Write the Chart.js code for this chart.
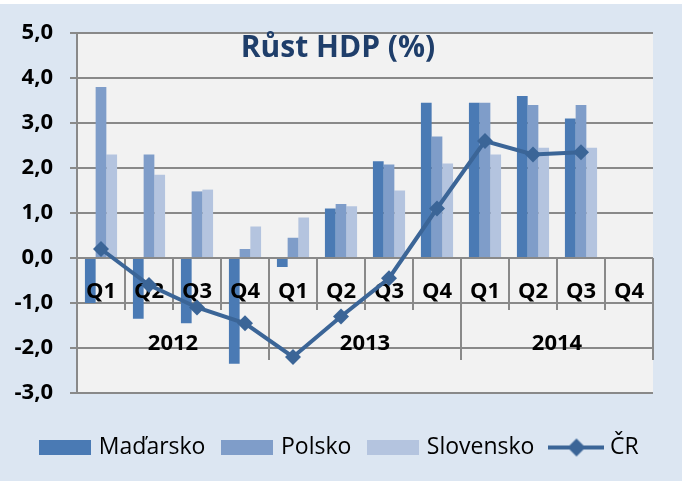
<!DOCTYPE html>
<html>
<head>
<meta charset="utf-8">
<script src="https://cdn.jsdelivr.net/npm/chart.js@4.4.1/dist/chart.umd.min.js"></script>
<style>
  html, body { margin: 0; padding: 0; background: #fff; }
  #chart { display: block; background: linear-gradient(#ffffff 0, #ffffff 4px, #dce6f2 4px); }
</style>
</head>
<body>
<canvas id="chart" width="682" height="481"></canvas>
<script>
const quarters = ["Q1", "Q2", "Q3", "Q4", "Q1", "Q2", "Q3", "Q4", "Q1", "Q2", "Q3", "Q4"];
const years = ["2012", "2013", "2014"];

const madarsko = [-1.0, -1.35, -1.45, -2.35, -0.2, 1.1, 2.15, 3.45, 3.45, 3.6, 3.1, null];
const polsko = [3.8, 2.3, 1.48, 0.2, 0.45, 1.2, 2.08, 2.7, 3.45, 3.4, 3.4, null];
const slovensko = [2.3, 1.85, 1.52, 0.7, 0.9, 1.15, 1.5, 2.1, 2.3, 2.45, 2.45, null];
const cr = [0.2, -0.6, -1.1, -1.45, -2.2, -1.3, -0.45, 1.1, 2.6, 2.3, 2.35, null];

const yTicks = [5, 4, 3, 2, 1, 0, -1, -2, -3];

const FONT = "'Open Sans', 'DejaVu Sans', sans-serif";
const GRID = "#898989";
const C_HU = "#4a7ab4";
const C_PL = "#7f9dc9";
const C_SK = "#b4c4df";
const C_CR = "#3b6597";

function boxImage(color) {
  const c = document.createElement("canvas");
  c.width = 52;
  c.height = 15;
  const g = c.getContext("2d");
  g.fillStyle = color;
  g.fillRect(0, 0, 52, 15);
  return c;
}

function lineImage(color) {
  const c = document.createElement("canvas");
  c.width = 56;
  c.height = 20;
  const g = c.getContext("2d");
  g.strokeStyle = color;
  g.lineWidth = 4;
  g.beginPath();
  g.moveTo(0, 10);
  g.lineTo(56, 10);
  g.stroke();
  g.fillStyle = color;
  g.beginPath();
  g.moveTo(28, 1);
  g.lineTo(37, 10);
  g.lineTo(28, 19);
  g.lineTo(19, 10);
  g.closePath();
  g.fill();
  return c;
}

// plot background, category axis drawn inside the plot, and the title
const axisPlugin = {
  id: "axisPlugin",
  beforeDraw(chart) {
    const a = chart.chartArea;
    const ctx = chart.ctx;
    ctx.save();
    ctx.fillStyle = "#f2f2f2";
    ctx.fillRect(a.left, a.top, a.right - a.left, a.bottom - a.top);
    ctx.restore();
  },
  beforeDatasetDraw(chart, args) {
    if (args.index !== 3) return;
    const ctx = chart.ctx;
    const x = chart.scales.x;
    const y0 = Math.round(chart.scales.y.getPixelForValue(0));
    ctx.save();
    ctx.strokeStyle = GRID;
    ctx.lineWidth = 2;
    ctx.beginPath();
    ctx.moveTo(x.left, y0);
    ctx.lineTo(x.right, y0);
    for (let k = 1; k <= quarters.length; k++) {
      const bx = Math.round(x.getPixelForValue(k - 0.5));
      ctx.moveTo(bx, y0);
      ctx.lineTo(bx, y0 + (k % 4 === 0 ? 102 : 52));
    }
    ctx.stroke();

    ctx.fillStyle = "#000";
    ctx.font = "bold 22px " + FONT;
    ctx.textAlign = "center";
    ctx.textBaseline = "middle";
    quarters.forEach((q, i) => {
      ctx.fillText(q, x.getPixelForValue(i), y0 + 34);
    });
    years.forEach((yr, g) => {
      ctx.fillText(yr, x.getPixelForValue(g * 4 + 1.5), y0 + 86);
    });
    ctx.restore();
  },
  afterDraw(chart) {
    const ctx = chart.ctx;
    ctx.save();
    ctx.fillStyle = "#1f3e6a";
    ctx.font = "bold 30px " + FONT;
    ctx.textAlign = "center";
    ctx.textBaseline = "middle";
    ctx.fillText("Růst HDP (%)", chart.width / 2 - 3, 48);
    ctx.restore();
  }
};

const ctx = document.getElementById("chart");

new Chart(ctx, {
  type: "bar",
  data: {
    labels: quarters,
    datasets: [
      { label: "Maďarsko", data: madarsko, backgroundColor: C_HU, order: 1 },
      { label: "Polsko", data: polsko, backgroundColor: C_PL, order: 1 },
      { label: "Slovensko", data: slovensko, backgroundColor: C_SK, order: 1 },
      {
        type: "line",
        label: "ČR",
        data: cr,
        order: 0,
        borderColor: C_CR,
        backgroundColor: C_CR,
        borderWidth: 4,
        tension: 0,
        pointStyle: "rectRot",
        pointRadius: 8,
        pointBorderWidth: 0,
        pointBackgroundColor: C_CR
      }
    ]
  },
  options: {
    responsive: false,
    animation: false,
    layout: { padding: { top: 33, right: 0, bottom: 12, left: 0 } },
    datasets: {
      bar: { barPercentage: 1, categoryPercentage: 0.67, borderWidth: 0 }
    },
    scales: {
      x: {
        display: true,
        grid: { display: false },
        border: { display: false },
        ticks: { display: false },
        afterFit: (s) => { s.height = 23; }
      },
      y: {
        min: -3,
        max: 5,
        afterBuildTicks: (s) => { s.ticks = yTicks.map((v) => ({ value: v })); },
        afterFit: (s) => { s.width = 77; },
        grid: { color: GRID, lineWidth: 2, tickLength: 7, drawTicks: true },
        border: { color: GRID, width: 2 },
        ticks: {
          padding: 17,
          color: "#000",
          font: { family: FONT, size: 22, weight: "bold" },
          callback: (v) => v.toFixed(1).replace(".", ",")
        }
      },
      yr: {
        position: "right",
        display: true,
        grid: { display: false },
        border: { display: false },
        ticks: { display: false },
        afterFit: (s) => { s.width = 29; }
      }
    },
    plugins: {
      tooltip: { enabled: false },
      legend: {
        position: "bottom",
        labels: {
          usePointStyle: true,
          pointStyleWidth: 44,
          padding: 20,
          color: "#000",
          font: { family: FONT, size: 23 },
          generateLabels: (chart) => chart.data.datasets.map((ds, i) => ({
            text: ds.label,
            pointStyle: i === 3 ? lineImage(C_CR) : boxImage(ds.backgroundColor),
            fillStyle: ds.backgroundColor,
            strokeStyle: "transparent",
            lineWidth: 0,
            hidden: false,
            datasetIndex: i
          }))
        }
      }
    }
  },
  plugins: [axisPlugin]
});
</script>
</body>
</html>
